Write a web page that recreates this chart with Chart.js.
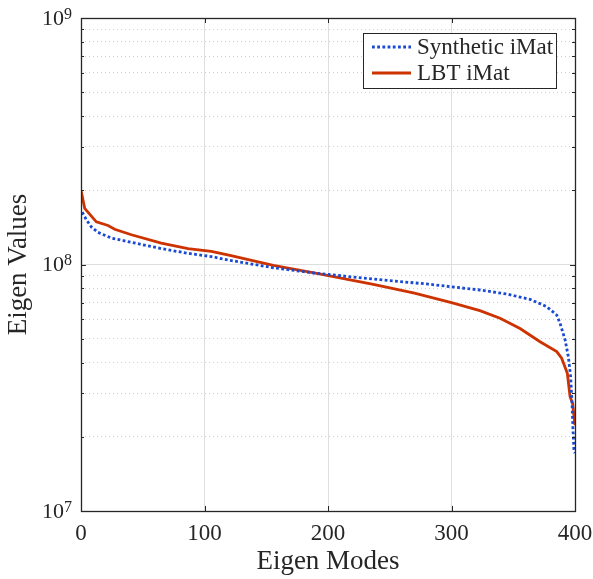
<!DOCTYPE html>
<html>
<head>
<meta charset="utf-8">
<script src="https://cdn.jsdelivr.net/npm/chart.js@4/dist/chart.umd.min.js"></script>
<style>
  html, body { margin: 0; padding: 0; background: #fff; }
  #wrap { width: 593px; height: 579px; }
</style>
</head>
<body>
<div id="wrap"><canvas id="eigChart" width="593" height="579"></canvas></div>
<script>
// eigen values
const synModes  = [1, 4.3, 8.4, 13.8, 24.6, 40.8, 65, 86.6, 105.5, 120.6, 155.7, 190.8, 236.7, 282.6, 300, 323, 344.7, 363.6, 377, 385.2, 387.9, 392, 394.6, 396.5, 397.6, 398.4, 399.2, 400];
const synValues = [1.63e8, 1.52e8, 1.42e8, 1.35e8, 1.28e8, 1.23e8, 1.16e8, 1.11e8, 1.077e8, 1.04e8, 9.7e7, 9.21e7, 8.73e7, 8.31e7, 8.12e7, 7.88e7, 7.59e7, 7.22e7, 6.75e7, 6.24e7, 5.77e7, 4.94e7, 4.23e7, 3.5e7, 2.73e7, 2.13e7, 1.74e7, 1.72e7];

const lbtModes  = [0, 3, 7, 12.4, 21.9, 27.3, 40.8, 65, 86.6, 105.5, 120.6, 155.7, 190.8, 236.7, 270, 300, 323, 339.3, 355.5, 371.7, 385.2, 389.2, 393.8, 396, 398.1, 400];
const lbtValues = [2.0e8, 1.69e8, 1.6e8, 1.49e8, 1.44e8, 1.39e8, 1.32e8, 1.22e8, 1.16e8, 1.13e8, 1.09e8, 9.92e7, 9.21e7, 8.31e7, 7.65e7, 7.0e7, 6.5e7, 6.05e7, 5.5e7, 4.86e7, 4.43e7, 4.17e7, 3.62e7, 2.91e7, 2.73e7, 2.23e7];

const xTicks = [0, 100, 200, 300, 400];
const yDecades = [7, 8, 9];
const seriesNames = ['Synthetic iMat', 'LBT iMat'];

const SERIF = '"Liberation Serif", "DejaVu Serif", serif';
const AXIS = '#262626';
const BLUE = '#1a4ad4';
const RED = '#cc3300';

// minor ticks 1..9 x 10^n for the log grid
const yTickValues = [];
yDecades.forEach((e, i) => {
  const last = i === yDecades.length - 1;
  for (let m = 1; m <= (last ? 1 : 9); m++) yTickValues.push(m * Math.pow(10, e));
});
const isDecade = v => Math.abs(Math.log10(v) - Math.round(Math.log10(v))) < 1e-9;

const toPoints = (xs, ys) => xs.map((x, i) => ({ x: x, y: ys[i] }));

const frame = {
  id: 'frame',
  afterDraw(chart) {
    const { ctx, chartArea: a, scales } = chart;
    const xs = scales.x, ys = scales.y;
    ctx.save();

    // tick marks inside the box
    ctx.strokeStyle = AXIS;
    ctx.lineWidth = 1;
    ctx.beginPath();
    yTickValues.forEach(v => {
      const y = Math.round(ys.getPixelForValue(v)) + 0.5;
      const len = isDecade(v) ? 5 : 3;
      ctx.moveTo(a.left, y); ctx.lineTo(a.left + len, y);
      ctx.moveTo(a.right, y); ctx.lineTo(a.right - len, y);
    });
    xTicks.forEach(v => {
      const x = Math.round(xs.getPixelForValue(v)) + 0.5;
      ctx.moveTo(x, a.bottom); ctx.lineTo(x, a.bottom - 5);
      ctx.moveTo(x, a.top); ctx.lineTo(x, a.top + 5);
    });
    ctx.stroke();

    // box
    ctx.lineWidth = 1.3;
    ctx.strokeRect(Math.round(a.left) + 0.5, Math.round(a.top) + 0.5,
                   Math.round(a.right - a.left), Math.round(a.bottom - a.top));

    // x tick labels
    ctx.fillStyle = AXIS;
    ctx.font = '23px ' + SERIF;
    ctx.textAlign = 'center';
    ctx.textBaseline = 'alphabetic';
    xTicks.forEach(v => {
      ctx.fillText(String(v), xs.getPixelForValue(v), 540);
    });

    // y tick labels 10^n
    yDecades.forEach(e => {
      const y = ys.getPixelForValue(Math.pow(10, e));
      ctx.font = '16px ' + SERIF;
      ctx.textAlign = 'right';
      const sup = String(e);
      const supW = ctx.measureText(sup).width;
      ctx.fillText(sup, a.left - 9, y + 0.5);
      ctx.font = '22px ' + SERIF;
      ctx.fillText('10', a.left - 9 - supW, y + 6.5);
    });

    // axis titles
    ctx.font = '27px ' + SERIF;
    ctx.textAlign = 'center';
    ctx.textBaseline = 'middle';
    ctx.fillText('Eigen Modes', (a.left + a.right) / 2, 562);
    ctx.save();
    ctx.translate(19, (a.top + a.bottom) / 2);
    ctx.rotate(-Math.PI / 2);
    ctx.fillText('Eigen Values', 0, 0);
    ctx.restore();

    // legend
    const lx = 363.5, ly = 33.5, lw = 193, lh = 55;
    ctx.fillStyle = '#fff';
    ctx.fillRect(lx, ly, lw, lh);
    ctx.lineWidth = 1;
    ctx.strokeStyle = AXIS;
    ctx.strokeRect(lx, ly, lw, lh);
    const rows = [47, 73];
    chart.data.datasets.forEach((ds, i) => {
      ctx.save();
      ctx.strokeStyle = ds.borderColor;
      ctx.lineWidth = ds.borderWidth;
      ctx.setLineDash(ds.borderDash || []);
      ctx.beginPath();
      ctx.moveTo(372, rows[i]);
      ctx.lineTo(411, rows[i]);
      ctx.stroke();
      ctx.restore();
      ctx.fillStyle = AXIS;
      ctx.font = '23px ' + SERIF;
      ctx.textAlign = 'left';
      ctx.textBaseline = 'middle';
      ctx.fillText(ds.label, 417, rows[i] + 1);
    });

    ctx.restore();
  }
};

const ctx = document.getElementById('eigChart').getContext('2d');

const eigChart = new Chart(ctx, {
  type: 'line',
  data: {
    datasets: [{
      label: seriesNames[0],
      data: toPoints(synModes, synValues),
      borderColor: BLUE,
      borderWidth: 2.8,
      borderDash: [2.8, 2.4],
      pointRadius: 0,
      tension: 0
    }, {
      label: seriesNames[1],
      data: toPoints(lbtModes, lbtValues),
      borderColor: RED,
      borderWidth: 2.8,
      pointRadius: 0,
      tension: 0
    }]
  },
  options: {
    responsive: false,
    animation: false,
    layout: { padding: { left: 0, top: 18, right: 18, bottom: 0 } },
    plugins: { legend: { display: false }, tooltip: { enabled: false } },
    scales: {
      x: {
        type: 'linear',
        min: 0,
        max: 400,
        afterBuildTicks: s => { s.ticks = xTicks.map(v => ({ value: v })); },
        afterFit: s => { s.height = 68; },
        ticks: { display: false },
        grid: { color: '#dedede', lineWidth: 1, drawTicks: false },
        border: { display: false }
      },
      y: {
        type: 'logarithmic',
        min: 1e7,
        max: 1e9,
        afterBuildTicks: s => { s.ticks = yTickValues.map(v => ({ value: v })); },
        afterFit: s => { s.width = 81; },
        ticks: { display: false },
        grid: {
          drawTicks: false,
          lineWidth: 1,
          color: c => (c.tick && isDecade(c.tick.value)) ? '#dedede' : '#cfcfcf'
        },
        border: {
          display: false,
          dash: c => (c.tick && isDecade(c.tick.value)) ? [] : [1, 3]
        }
      }
    }
  },
  plugins: [frame]
});
</script>
</body>
</html>
